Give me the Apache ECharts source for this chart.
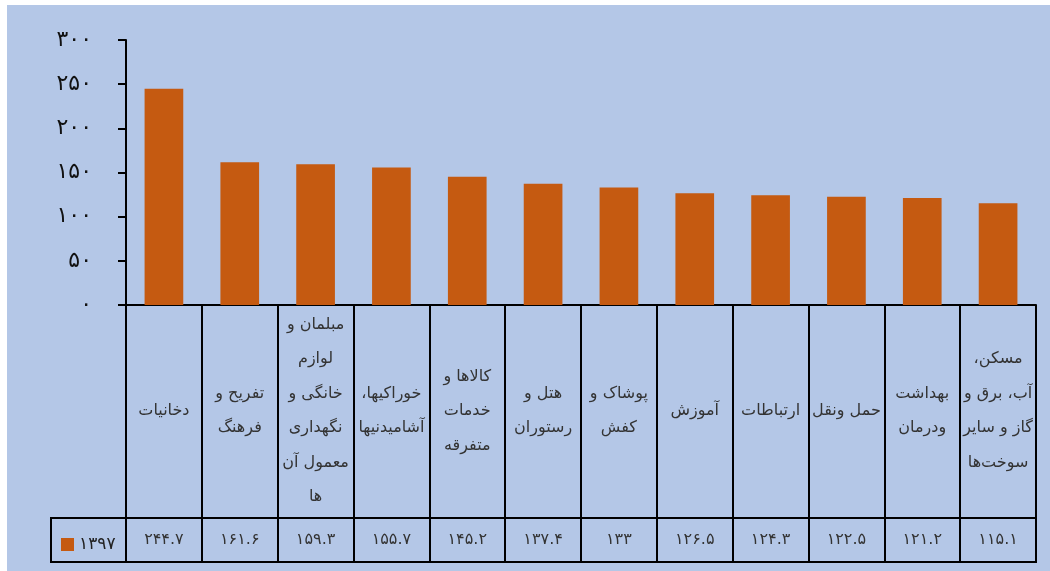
<!DOCTYPE html>
<html>
<head>
<meta charset="utf-8">
<script src="https://cdn.jsdelivr.net/npm/echarts@6/dist/echarts.min.js"></script>
<style>
html,body{margin:0;padding:0;background:#ffffff;}
#chart{width:1050px;height:571px;}
</style>
</head>
<body>
<div id="chart"></div>
<script>
// ---- data ----
const categories = [
  'دخانیات',
  'تفریح و\nفرهنگ',
  'مبلمان و\nلوازم\nخانگی و\nنگهداری\nمعمول آن\nها',
  'خوراکیها،\u200F\nآشامیدنیها',
  'کالاها و\nخدمات\nمتفرقه',
  'هتل و\nرستوران',
  'پوشاک و\nکفش',
  'آموزش',
  'ارتباطات',
  'حمل ونقل',
  'بهداشت\nودرمان',
  'مسکن،\u200F\nآب، برق و\nگاز و سایر\nسوخت‌ها'
];
const values1397 = [244.7, 161.6, 159.3, 155.7, 145.2, 137.4, 133, 126.5, 124.3, 122.5, 121.2, 115.1];
const seriesName = '۱۳۹۷';
const yTicks = [0, 50, 100, 150, 200, 250, 300];

// ---- helpers ----
const faDigits = '۰۱۲۳۴۵۶۷۸۹';
function toFa(v) { return String(v).replace(/[0-9]/g, d => faDigits[+d]); }

const FONT = '"DejaVu Sans", sans-serif';
const LEFT = 126, RIGHT = 14;

const chart = echarts.init(document.getElementById('chart'), null, {renderer: 'canvas'});
chart.setOption({
  animation: false,
  backgroundColor: '#ffffff',
  textStyle: {fontFamily: FONT},
  graphic: [
    {type: 'rect', z: -10, silent: true,
     shape: {x: 7, y: 5, width: 1043, height: 566}, style: {fill: '#b4c7e7'}},
    {type: 'rect', z: 10, silent: true,
     shape: {x: 51, y: 518, width: 75, height: 44}, style: {fill: 'none', stroke: '#000', lineWidth: 2}}
  ],
  legend: {
    left: 56, top: 531, icon: 'rect', itemWidth: 13, itemHeight: 13, itemGap: 6,
    textStyle: {fontFamily: FONT, fontSize: 17, color: '#222'},
    data: [seriesName]
  },
  grid: [
    {left: LEFT, right: RIGHT, top: 40, height: 265},
    {left: LEFT, right: RIGHT, top: 518, height: 44, show: true,
     borderColor: '#000', borderWidth: 2, backgroundColor: 'transparent'}
  ],
  xAxis: [
    {
      type: 'category', gridIndex: 0, data: categories,
      axisLine: {show: true, lineStyle: {color: '#000', width: 2}},
      axisTick: {show: true, interval: 0, length: 213, lineStyle: {color: '#000', width: 2}},
      axisLabel: {
        interval: 0, margin: 106, verticalAlign: 'middle', align: 'center',
        fontFamily: FONT, fontSize: 16, lineHeight: 34.5, color: '#333'
      },
      splitLine: {show: false}
    },
    {
      type: 'category', gridIndex: 1, data: categories,
      axisLine: {show: false}, axisTick: {show: false},
      axisLabel: {
        interval: 0, inside: true, margin: 22, verticalAlign: 'middle', align: 'center',
        fontFamily: FONT, fontSize: 16, color: '#333',
        formatter: (v, i) => toFa(values1397[i])
      },
      splitLine: {show: true, interval: 0, lineStyle: {color: '#000', width: 2}}
    }
  ],
  yAxis: [
    {
      type: 'value', gridIndex: 0, min: 0, max: 300, interval: 50,
      axisLine: {show: true, lineStyle: {color: '#000', width: 2}},
      axisTick: {show: true, length: 8, lineStyle: {color: '#000', width: 2}},
      axisLabel: {margin: 34, fontFamily: FONT, fontSize: 22, color: '#111',
        padding: [0, 0, 5, 0], formatter: v => toFa(v)},
      splitLine: {show: false}
    },
    {type: 'value', gridIndex: 1, show: false, min: 0, max: 1}
  ],
  series: [
    {
      name: seriesName, type: 'bar', xAxisIndex: 0, yAxisIndex: 0,
      data: values1397, barWidth: '51%',
      itemStyle: {color: '#c55a11'}
    }
  ]
});
</script>
</body>
</html>
